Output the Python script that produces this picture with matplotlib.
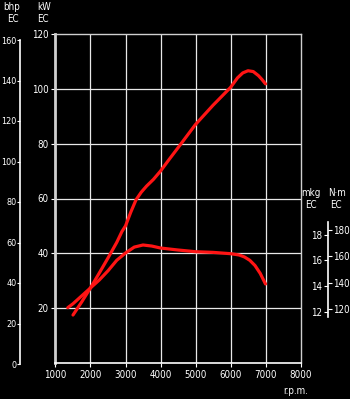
import matplotlib
matplotlib.use("Agg")
import matplotlib.pyplot as plt

# ── data ───────────────────────────────────────────────────────────────────
power_rpm = [1500, 1750, 2000, 2250, 2500, 2750, 2900, 3000, 3150, 3300, 3450,
             3600, 3800, 4000, 4250, 4500, 5000, 5500, 6000, 6200, 6350,
             6500, 6650, 6800, 6900, 7000]
power_kw = [17.5, 22.3, 27.4, 32.8, 38.3, 44, 48, 50, 55, 59.5, 62.3,
            64.5, 67, 70, 74.3, 78.5, 87, 94, 100.5, 104, 105.8,
            106.6, 106.3, 104.8, 103.4, 101.8]

torque_rpm = [1350, 1500, 1750, 2000, 2250, 2500, 2750, 3000, 3250, 3500, 3750,
              4000, 4500, 5000, 5500, 6000, 6250, 6400, 6550, 6700, 6850, 7000]
torque_nm = [121, 124, 130, 136, 142, 149, 157, 162.5, 167, 168.6, 167.8,
             166.3, 164.8, 163.5, 163, 162, 161, 159.5, 157, 153, 147, 139]

rpm_ticks = [1000, 2000, 3000, 4000, 5000, 6000, 7000, 8000]
kw_ticks = [20, 40, 60, 80, 100, 120]
bhp_ticks = [0, 20, 40, 60, 80, 100, 120, 140, 160]
nm_ticks = [120, 140, 160, 180]
mkg_ticks = [12, 14, 16, 18]

FG = "white"
RED = "#ff1414"
FS = 7
plt.rcParams["font.family"] = ["DejaVu Sans"]
plt.rcParams["font.stretch"] = "condensed"

W, H = 350, 399
fig = plt.figure(figsize=(W / 100, H / 100), dpi=100, facecolor="black")


def box(x0, y0, x1, y1):
    # pixel box (top-left origin) -> figure fraction
    return [x0 / W, 1 - y1 / H, (x1 - x0) / W, (y1 - y0) / H]


# ── main axes (kW vs rpm) ─────────────────────────────────────────────────
ax = fig.add_axes(box(55.5, 34, 300.5, 363))
ax.set_facecolor("black")
ax.set_xlim(1000, 8000)
ax.set_ylim(0, 120)
for x in rpm_ticks[1:-1]:
    ax.axvline(x, color="#e8e8e8", lw=0.9, zorder=1)
for y in kw_ticks[:-1]:
    ax.axhline(y, color="#e8e8e8", lw=0.9, zorder=1)
for side in ["top", "right"]:
    ax.spines[side].set_color("#cfcfcf")
    ax.spines[side].set_linewidth(1.0)
ax.spines["left"].set_color("#d0d0d0")
ax.spines["left"].set_linewidth(2.0)
ax.spines["bottom"].set_color(FG)
ax.spines["bottom"].set_linewidth(1.2)
ax.set_xticks(rpm_ticks)
ax.set_yticks(kw_ticks)
ax.tick_params(colors=FG, labelsize=FS, length=3, width=0.8, pad=2)
ax.plot(power_rpm, power_kw, color=RED, lw=2.3, solid_capstyle="round",
        solid_joinstyle="round", zorder=3)

# torque curve on an overlay axes (N·m scale)
axt = ax.twinx()
axt.set_ylim(79, 328.8)
axt.plot(torque_rpm, torque_nm, color=RED, lw=2.3, solid_capstyle="round",
         solid_joinstyle="round", zorder=3)
for side in ["top", "left", "bottom"]:
    axt.spines[side].set_visible(False)
axt.spines["right"].set_position(("axes", 1.112))
axt.spines["right"].set_bounds(114, 186)
axt.spines["right"].set_color(FG)
axt.spines["right"].set_linewidth(1.2)
axt.set_yticks(nm_ticks)
axt.tick_params(colors=FG, labelsize=FS, length=3, width=0.8, pad=1)

# mkg scale on the same spine, ticks to the left
axm = ax.twinx()
axm.set_ylim(79 / 9.807, 328.8 / 9.807)
for side in ["top", "right", "bottom"]:
    axm.spines[side].set_visible(False)
axm.spines["left"].set_position(("axes", 1.112))
axm.spines["left"].set_visible(False)
axm.yaxis.set_ticks_position("left")
axm.set_yticks(mkg_ticks)
axm.tick_params(colors=FG, labelsize=FS, length=3, width=0.8, pad=1)
axm.patch.set_visible(False)

# ── bhp scale on the far left ─────────────────────────────────────────────
axb = fig.add_axes(box(20, 40, 21, 364))
axb.patch.set_visible(False)
axb.set_ylim(0, 160)
axb.set_xticks([])
for side in ["top", "right", "bottom"]:
    axb.spines[side].set_visible(False)
axb.spines["left"].set_color(FG)
axb.spines["left"].set_linewidth(1.2)
axb.set_yticks(bhp_ticks)
axb.tick_params(colors=FG, labelsize=6.5, length=2, width=0.8, pad=0.5)

# ── unit labels ───────────────────────────────────────────────────────────
def label(x, y, s, ha="center"):
    fig.text(x / W, 1 - y / H, s, color=FG, fontsize=FS, ha=ha, va="center")

label(12, 7, "bhp")
label(13, 19, "EC")
label(44, 7, "kW")
label(43, 19, "EC")
label(311, 193, "mkg")
label(311, 205, "EC")
label(337, 193, "N·m")
label(336, 205, "EC")
label(296, 391, "r.p.m.")

fig.savefig("out.png", dpi=100, facecolor="black")
